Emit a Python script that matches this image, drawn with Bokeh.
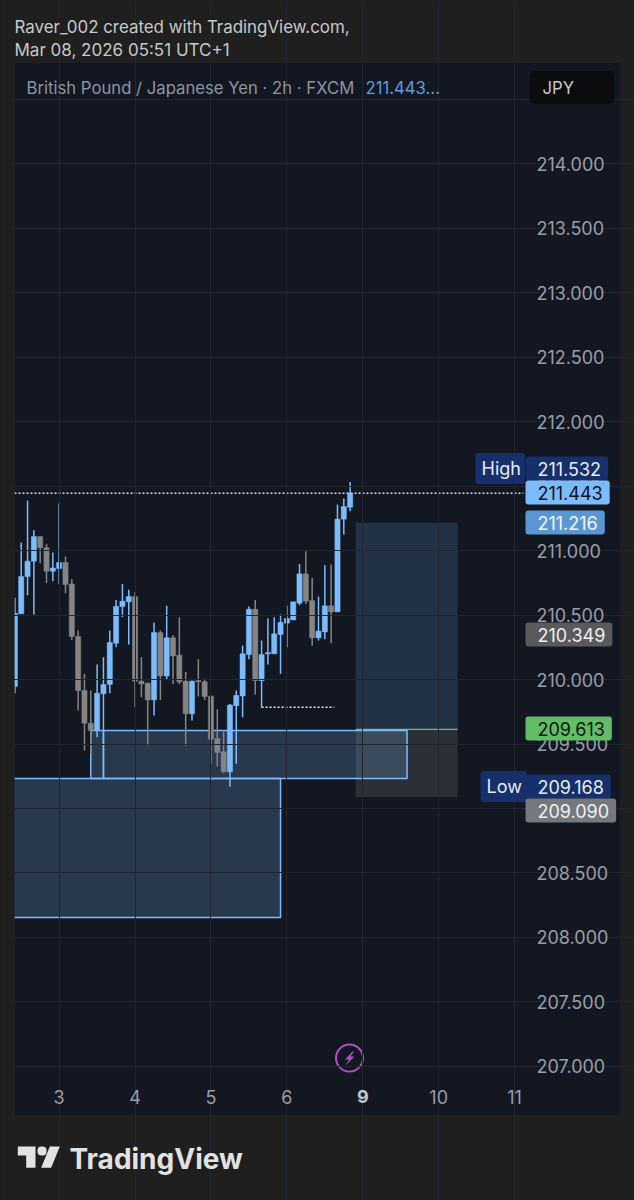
from bokeh.plotting import figure
from bokeh.models import (ColumnDataSource, LinearAxis, FixedTicker, Label, BoxAnnotation,
                          PolyAnnotation, GlobalInlineStyleSheet)
from bokeh.embed import file_html
from bokeh.resources import INLINE

# ---- data -------------------------------------------------------------
bars = list(range(-7, 47))
opens = [209.946,210.509,210.798,210.917,211.108,211.021,210.840,210.860,210.907,210.741,210.333,209.915,209.661,
         209.604,209.889,209.961,210.281,210.566,210.602,210.643,209.987,209.971,209.842,210.364,210.028,210.323,
         210.188,209.987,209.734,209.992,209.982,209.871,209.542,209.439,209.284,209.796,209.873,210.194,210.545,
         209.992,210.199,210.199,210.349,210.437,210.462,210.592,210.819,210.612,210.323,210.369,210.571,210.524,
         211.243,211.336]
highs = [210.633,211.062,211.387,211.160,211.108,211.052,210.984,211.367,210.953,210.778,210.380,210.044,209.915,
         210.116,210.173,210.380,210.617,210.741,210.695,210.679,210.173,209.977,210.442,210.380,210.571,210.344,
         210.483,210.059,209.992,210.157,210.008,209.873,209.770,209.604,209.811,209.915,210.261,210.566,210.617,
         210.302,210.473,210.483,210.504,210.571,210.602,210.896,210.995,210.788,210.643,210.886,210.891,211.356,
         211.403,211.532]
lows = [209.894,210.509,210.654,210.504,210.902,210.749,210.762,210.741,210.669,210.307,209.760,209.449,209.424,
        209.553,209.604,209.894,210.250,210.483,210.271,209.785,209.863,209.486,209.721,209.842,210.002,209.966,
        209.966,209.486,209.682,209.868,209.842,209.346,209.325,209.274,209.168,209.346,209.708,210.157,209.884,
        209.785,210.116,210.199,210.044,210.250,210.462,210.576,210.586,210.261,210.302,210.312,210.281,210.524,
        211.124,211.305]
closes = [210.514,210.798,210.917,211.108,211.021,210.840,210.865,210.907,210.736,210.333,209.915,209.661,209.604,
          209.894,209.961,210.287,210.566,210.607,210.643,209.987,209.966,209.842,210.364,210.028,210.323,210.183,
          209.982,209.734,209.987,209.982,209.868,209.537,209.434,209.284,209.803,209.876,210.199,210.545,209.992,
          210.194,210.209,210.354,210.442,210.473,210.602,210.819,210.607,210.323,210.375,210.571,210.524,211.243,
          211.341,211.443]

tick_bars = [0, 12, 24, 36, 48, 60, 72]
tick_labels = ["3", "4", "5", "6", "9", "10", "11"]
price_ticks = [207, 207.5, 208, 208.5, 209, 209.5, 210, 210.5, 211, 211.5, 212, 212.5, 213, 213.5, 214]
grid_prices = price_ticks + [214.5]

last_price = 211.443
zone_left = [-8, 5, 7]
zone_right = [35, 7, 55]
zone_top = [209.233, 209.605, 209.605]
zone_bottom = [208.155, 209.233, 209.233]
pos_left = 46.9
pos_right = 63
pos_target = 211.216
pos_entry = 209.613
pos_stop = 209.090
stale_level = 209.785
stale_from, stale_to = 32, 43.5

tag_values = [211.532, 211.443, 211.216, 210.349, 209.613, 209.168, 209.090]
tag_fills = ["#15306a", "#7cbcfc", "#5a96d2", "#5a5a5c", "#63bd66", "#15306a", "#75787f"]
tag_texts = ["#e8edf5", "#0d1117", "#f2f6fb", "#f0f0f0", "#0d1410", "#e8edf5", "#f0f0f0"]
# the price scale pushes colliding tags apart, so they do not sit exactly on their prices
tag_rows = [468, 492, 522, 634, 728, 786, 810]

BLUE, GRAY = "#7cbcfc", "#858585"
FONT = "Inter"
CAPTION, PANEL, PAGE = "#9a9ea6", "#131722", "#1f1f1f"
PANE_X = (-7.06, 73.41)
PANE_Y = (206.930, 214.783)

# ---- figure -----------------------------------------------------------
p = figure(width=634, height=1200, output_backend="svg", toolbar_location=None,
           x_range=(-9.276, 90.96), y_range=(205.961, 215.264),
           min_border=0, x_axis_location=None, y_axis_location=None,
           border_fill_color=PAGE, background_fill_color=PAGE, outline_line_color=None)
p.stylesheets = [GlobalInlineStyleSheet(css="html,body{margin:0!important;padding:0;background:#1f1f1f}")]

def box(l, r, t, b, fill, line=None, radius=0, level="annotation", alpha=1):
    p.add_layout(BoxAnnotation(left=l, right=r, top=t, bottom=b, left_units="canvas", right_units="canvas",
                               top_units="canvas", bottom_units="canvas", fill_color=fill, fill_alpha=alpha,
                               line_color=line, line_width=1, border_radius=radius, level=level))

box(14, 620, 62, 1115, PANEL, level="image")

p.xgrid.ticker = FixedTicker(ticks=tick_bars)
p.xgrid.bounds = PANE_Y
p.ygrid.ticker = FixedTicker(ticks=grid_prices)
p.ygrid.bounds = PANE_X
for g in (p.xgrid, p.ygrid):
    g.grid_line_color = "#21252e"
    g.grid_line_width = 1
    g.level = "glyph"

xaxis = LinearAxis(ticker=FixedTicker(ticks=tick_bars), fixed_location=PANE_Y[0],
                   major_label_overrides={b: ("" if t == "9" else t) for b, t in zip(tick_bars, tick_labels)},
                   axis_line_color=None, major_tick_line_color=None, minor_tick_line_color=None,
                   major_tick_out=0, major_label_text_color=CAPTION, major_label_text_font=FONT,
                   major_label_text_font_size="18px", major_label_standoff=14)
p.add_layout(xaxis, "below")
yaxis = LinearAxis(ticker=FixedTicker(ticks=price_ticks), fixed_location=PANE_X[1],
                   major_label_overrides={v: f"{v:.3f}" for v in price_ticks},
                   axis_line_color=None, major_tick_line_color=None, minor_tick_line_color=None,
                   major_tick_out=0, major_label_text_color=CAPTION, major_label_text_font=FONT,
                   major_label_text_font_size="18px", major_label_standoff=13)
p.add_layout(yaxis, "right")

# position tool
p.quad(left=[pos_left], right=[pos_right], top=[pos_target], bottom=[pos_entry],
       fill_color="#4a80b5", fill_alpha=0.25, line_color=None)
p.quad(left=[pos_left], right=[pos_right], top=[pos_entry], bottom=[pos_stop],
       fill_color="#a8a8a8", fill_alpha=0.17, line_color=None)
p.segment(x0=[pos_left], x1=[pos_right], y0=[pos_entry], y1=[pos_entry], line_color="#6fc06f", line_width=1.3)

# zones
p.quad(left=zone_left, right=zone_right, top=zone_top, bottom=zone_bottom,
       fill_color="#7cbcfc", fill_alpha=0.2, line_color="#7cbcfc", line_width=1.5)

# candles
colors = [BLUE if c >= o else GRAY for o, c in zip(opens, closes)]
src = ColumnDataSource(dict(x=bars, o=opens, h=highs, l=lows, c=closes, color=colors,
                            top=[max(a, b) for a, b in zip(opens, closes)],
                            bottom=[min(a, b) for a, b in zip(opens, closes)]))
p.segment(x0="x", x1="x", y0="l", y1="h", line_color="color", line_width=1.5, source=src)
p.vbar(x="x", width=0.82, top="top", bottom="bottom", fill_color="color", line_color="color",
       line_width=0.5, source=src)

# dotted lines
p.line(x=list(PANE_X), y=[last_price, last_price], line_color="#d5dbe4", line_width=1.5, line_dash="2 2")
p.line(x=[stale_from, stale_to], y=[stale_level, stale_level], line_color="#e8e8e8", line_width=1.5, line_dash="2 2")

# page margin left of the pane hides what runs past its edge, then the pane's outline
box(0, 14, 0, 1200, PAGE)
box(14, 620, 62, 1115, PANEL, "#2a2c31", alpha=0)

# bold "9"
p.add_layout(Label(x=48, y=1096, x_units="data", y_units="canvas", text="9", text_align="center",
                   text_baseline="middle", text_font=FONT, text_font_size="18px", text_font_style="bold",
                   text_color="#c2c5cb"))

# alert icon
p.scatter(x=[45.9], y=[207.065], size=27, marker="circle", fill_color=PANEL, fill_alpha=1,
          line_color="#b04fc4", line_width=2)
p.add_layout(PolyAnnotation(xs=[352, 344.5, 348.5, 345, 354, 350, 353.5], ys=[1051, 1059, 1059, 1065, 1056, 1056, 1051],
                            xs_units="canvas", ys_units="canvas", fill_color="#b04fc4", fill_alpha=1, line_color=None))

# price tags
def tag(x, y, text, fill, color, pad):
    p.add_layout(Label(x=x, y=y, x_units="canvas", y_units="canvas", text=text, anchor="center_left",
                       text_align="left", text_baseline="middle", text_font=FONT, text_font_size="18px",
                       text_color=color, background_fill_color=fill, border_radius=3, padding=pad))

tag(475, tag_rows[0], "High", tag_fills[0], tag_texts[0], (6, 4, 5, 5))
tag(480, tag_rows[5], "Low", tag_fills[5], tag_texts[5], (6, 5, 5, 5))
for v, row, f, t in zip(tag_values, tag_rows, tag_fills, tag_texts):
    tag(525, row, f"{v:.3f}", f, t, (12, 7, 5, 5))

# header
def text(x, y, s, color, size, style="normal", font=FONT):
    p.add_layout(Label(x=x, y=y, x_units="canvas", y_units="canvas", text=s, text_color=color,
                       text_font=font, text_font_size=size, text_font_style=style,
                       text_baseline="middle", text_align="left"))

text(14, 26, "Raver_002 created with TradingView.com,", "#c8c8c8", "16.9px")
text(14, 49, "Mar 08, 2026 05:51 UTC+1", "#c8c8c8", "17px")
text(26, 87, "British Pound / Japanese Yen · 2h · FXCM", "#8d94a1", "16.7px")
text(365, 87, "211.443...", "#5c9ede", "16.7px")
box(529, 614, 70, 104, "#0c0c0e", "#22252b", 6)
text(542, 87, "JPY", "#c8c8c8", "16.7px")

# logo
LOGO = "#e2e2e2"
p.add_layout(PolyAnnotation(xs=[17.3, 35, 35, 25.7, 25.7, 17.3], ys=[1146, 1146, 1167.3, 1167.3, 1155, 1155],
                            xs_units="canvas", ys_units="canvas", fill_color=LOGO, fill_alpha=1, line_color=None))
p.add_layout(PolyAnnotation(xs=[49.3, 59.3, 50.7, 40.7], ys=[1146, 1146, 1167.3, 1167.3],
                            xs_units="canvas", ys_units="canvas", fill_color=LOGO, fill_alpha=1, line_color=None))
box(37, 46, 1146, 1155, LOGO, None, 4)
text(69, 1158, "TradingView", LOGO, "28px", "bold")

open("out.html", "w").write(file_html(p, INLINE))
